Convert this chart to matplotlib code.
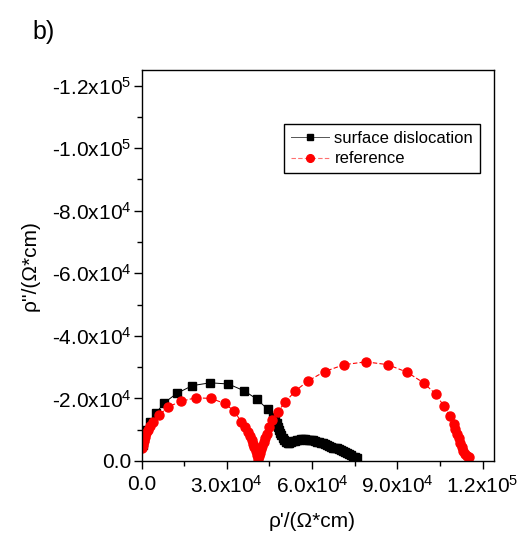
import matplotlib
matplotlib.use("Agg")
import matplotlib.pyplot as plt
from matplotlib.ticker import MultipleLocator, FuncFormatter

plt.rcParams['font.family'] = ['Liberation Sans', 'DejaVu Sans']
plt.rcParams['mathtext.default'] = 'regular'

# impedance spectra, rho' and rho'' in Ohm*cm
disl_re = [400, 900, 1600, 3000, 5000, 8000, 12400, 17900, 24200, 30600, 36200,
           40700, 44400, 46400, 47000, 47500, 47900, 48300, 48700, 49200, 49700,
           50200, 50800, 51400, 52000, 52700, 53400, 54100, 54800, 55500, 56200,
           56900, 57600, 58300, 59000, 59700, 60400, 61100, 61800, 62500, 63200,
           63900, 64600, 65300, 66000, 66700, 67400, 68100, 68800, 69500, 70200,
           70900, 71600, 72300, 73000, 73700, 74400, 75100, 75800]
disl_im = [-5000, -7500, -10000, -12500, -15200, -18600, -21600, -24100, -25000,
           -24600, -22400, -19700, -16500, -14100, -13000, -12000, -11000, -10000,
           -9100, -8200, -7300, -6600, -6000, -5700, -5800, -6100, -6300, -6500,
           -6700, -6800, -6900, -6900, -6900, -6800, -6800, -6700, -6600, -6400,
           -6200, -6000, -5800, -5600, -5300, -5000, -4800, -4500, -4300, -4100,
           -4000, -3800, -3600, -3300, -3000, -2600, -2200, -1800, -1400, -1200,
           -1000]

ref_re = [300, 500, 800, 1200, 1700, 2300, 3000, 3900, 6300, 9400, 13900, 19100,
          24500, 29200, 32700, 35000, 36500, 37500, 38200, 38800, 39300, 39700,
          40100, 40500, 40900, 41300, 41700, 42100, 42500, 43000, 43500, 44100,
          45000, 45900, 47900, 50600, 54100, 58600, 64400, 71300, 78900, 86600,
          93400, 99200, 103600, 106300, 108600, 109800, 110400, 111000, 111600,
          112100, 112600, 113200, 113900, 114500, 115100]
ref_im = [-4000, -5200, -6400, -7600, -8800, -10000, -11200, -12500, -14800,
          -17300, -19100, -20200, -20000, -18400, -15900, -12600, -10900, -9300,
          -8000, -6700, -5500, -4400, -3300, -2000, -500, -1500, -2600, -3700,
          -4800, -6000, -7200, -8700, -11000, -13100, -15700, -18900, -22400,
          -25600, -28600, -30800, -31700, -30800, -28400, -25000, -21300, -17600,
          -14400, -11800, -10200, -8600, -7200, -5800, -4600, -3300, -2200, -1600,
          -1400]


def sci_label(v, pos):
    if abs(v) < 1e-9:
        return '0.0'
    exp = len(str(int(abs(v)))) - 1
    mant = v / 10 ** exp
    return f'{mant:.1f}x10$^{{{exp}}}$'


fig = plt.figure(figsize=(5.21, 5.41), dpi=100)
ax = fig.add_axes([0.2716, 0.1479, 0.6766, 0.7227])

ax.plot(disl_re, disl_im, '-s', color='black', lw=0.7, ms=5.5,
        mfc='black', mec='black', label='surface dislocation')
ax.plot(ref_re, ref_im, '--o', color='red', lw=0.8, ms=6.5, dashes=(4, 2),
        mfc='red', mec='red', label='reference')

ax.set_xlim(0, 1.24e5)
ax.set_ylim(0, -1.25e5)

ax.xaxis.set_major_locator(MultipleLocator(3e4))
ax.xaxis.set_minor_locator(MultipleLocator(1.5e4))
ax.yaxis.set_major_locator(MultipleLocator(2e4))
ax.yaxis.set_minor_locator(MultipleLocator(1e4))
ax.xaxis.set_major_formatter(FuncFormatter(sci_label))
ax.yaxis.set_major_formatter(FuncFormatter(sci_label))

ax.tick_params(which='both', direction='out', top=False, right=False,
               labelsize=15, width=1.0)
ax.tick_params(axis='x', which='major', length=6, pad=4)
ax.tick_params(axis='y', which='major', length=6, pad=1)
ax.tick_params(which='minor', length=3.5)
for sp in ax.spines.values():
    sp.set_linewidth(1.0)

ax.set_xlabel("ρ'/(Ω*cm)", fontsize=15)
ax.set_ylabel("ρ''/(Ω*cm)", fontsize=15)
ax.xaxis.set_label_coords(0.484, -0.13)
ax.yaxis.set_label_coords(-0.29, 0.5)

leg = ax.legend(loc='upper right', bbox_to_anchor=(0.96, 0.862), fontsize=12,
                frameon=True, fancybox=False, edgecolor='black', framealpha=1,
                handlelength=2.3, handletextpad=0.3, labelspacing=0.35,
                borderpad=0.4, borderaxespad=0, markerscale=0.85)
leg.get_frame().set_linewidth(1.0)
leg.get_lines()[0].set_color('#555555')
leg.get_lines()[1].set_color('#ff7070')

fig.text(0.063, 0.94, 'b)', fontsize=18, ha='left', va='center')

fig.savefig('out.png', dpi=100)
